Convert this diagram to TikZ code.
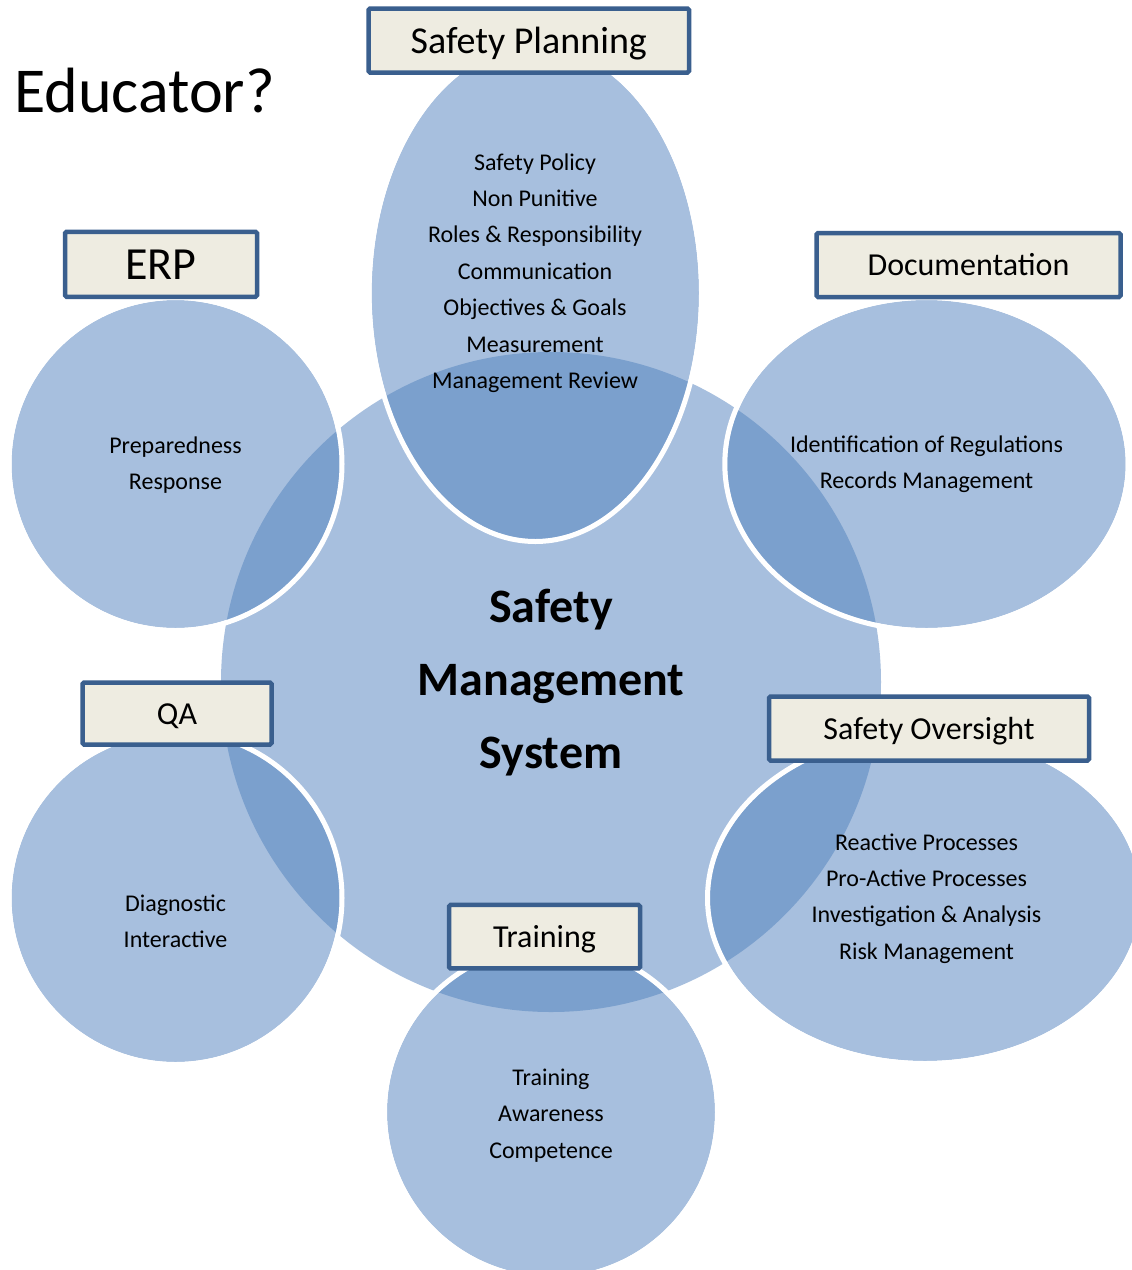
\documentclass[tikz,border=0pt]{standalone}
\usepackage{fontspec}
\setmainfont{Carlito}
\definecolor{lightb}{HTML}{A7BFDE}
\definecolor{darkb}{HTML}{7BA0CD}
\definecolor{boxfill}{HTML}{EEECE1}
\definecolor{boxline}{HTML}{3A5F8E}
\begin{document}
\begin{tikzpicture}[x=1pt,y=-1pt,
  itxt/.style={font=\fontsize{24}{29}\selectfont, inner sep=0pt, anchor=base, text=black},
  ctxt/.style={font=\fontsize{48}{56}\selectfont\bfseries, inner sep=0pt, anchor=base, text=black},
  lbl/.style={draw=boxline, line width=4.5pt, fill=boxfill, rounded corners=1.5pt, inner sep=0pt,
              minimum height=64pt, text=black},
  lbs/.style={font=\fontsize{32}{38}\selectfont, text height=28.8pt, text depth=7pt},
  lbm/.style={font=\fontsize{38}{44}\selectfont, text height=34.2pt, text depth=8.4pt},
  lbl46/.style={font=\fontsize{46}{52}\selectfont, text height=41.4pt, text depth=10.1pt},
  rim/.style={draw=white, line width=5pt}]
\useasboundingbox (0,0) rectangle (1132,1270);
\fill[white] (0,0) rectangle (1132,1270);
\def\central{(551,682) circle [radius=330]}
\def\shTop{(535.3,293) ellipse [x radius=163.7, y radius=246]}
\def\shErp{(175.5,464) circle [radius=164]}
\def\shDoc{(926.5,464) ellipse [x radius=199.2, y radius=164]}
\def\shQa{(175.5,898) circle [radius=164]}
\def\shOvs{(925,898) ellipse [x radius=215, y radius=163]}
\def\shTrn{(551,1112) circle [radius=164]}
% fills
\fill[lightb] \central;
\fill[lightb] \shTop;
\fill[lightb] \shErp;
\fill[lightb] \shDoc;
\fill[lightb] \shQa;
\fill[lightb] \shOvs;
\fill[lightb] \shTrn;
% overlaps
\begin{scope}
  \clip \central;
  \fill[darkb] \shTop;
  \fill[darkb] \shErp;
  \fill[darkb] \shDoc;
  \fill[darkb] \shQa;
  \fill[darkb] \shOvs;
  \fill[darkb] \shTrn;
\end{scope}
% white rims
\draw[rim] (535.3,293) ellipse [x radius=166.2, y radius=248.5];
\draw[rim] (175.5,464) circle [radius=166.5];
\draw[rim] (926.5,464) ellipse [x radius=201.7, y radius=166.5];
\draw[rim] (175.5,898) circle [radius=166.5];
\draw[rim] (925,898) ellipse [x radius=217.5, y radius=165.5];
\draw[rim] (551,1112) circle [radius=166.5];
% title
\node[font=\fontsize{64}{70}\selectfont, inner sep=0pt, anchor=base west] (title) at (14,112) {Educator?};
% central text
\node[ctxt] (c1) at (551,622.5) {Safety};
\node[ctxt] (c2) at (551,695.5) {Management};
\node[ctxt] (c3) at (551,768.5) {System};
% inner texts
\foreach \t [count=\i] in {Safety Policy,Non Punitive,Roles \& Responsibility,Communication,Objectives \& Goals,Measurement,Management Review}
  \node[itxt] (tp\i) at (535,{170+36.4*(\i-1)}) {\t};
\node[itxt] (erp1) at (175.5,453.3) {Preparedness};
\node[itxt] (erp2) at (175.5,489) {Response};
\node[itxt] (doc1) at (926.5,452.7) {Identification of Regulations};
\node[itxt] (doc2) at (926.5,488.3) {Records Management};
\node[itxt] (qa1) at (175.5,911.3) {Diagnostic};
\node[itxt] (qa2) at (175.5,947.3) {Interactive};
\foreach \t [count=\i] in {Reactive Processes,Pro-Active Processes,Investigation \& Analysis,Risk Management}
  \node[itxt] (ov\i) at (926.5,{850+36.4*(\i-1)}) {\t};
\foreach \t [count=\i] in {Training,Awareness,Competence}
  \node[itxt] (tr\i) at (551,{1085.3+36.4*(\i-1)}) {\t};
% label boxes
\node[lbl, lbm, minimum width=320.5pt] (bsp) at (528.75,40.5) {Safety Planning};
\node[lbl, lbl46, minimum width=192pt, minimum height=65pt] (berp) at (161,264.3) {ERP};
\node[lbl, lbs, minimum width=304pt] (bdoc) at (968.5,265) {Documentation};
\node[lbl, lbs, minimum width=189pt, minimum height=62pt] (bqa) at (177,713.5) {QA};
\node[lbl, lbs, minimum width=320pt] (bovs) at (929,728.5) {Safety Oversight};
\node[lbl, lbs, minimum width=191pt, minimum height=63.5pt] (btrn) at (544.5,936.7) {Training};
\end{tikzpicture}
\end{document}
